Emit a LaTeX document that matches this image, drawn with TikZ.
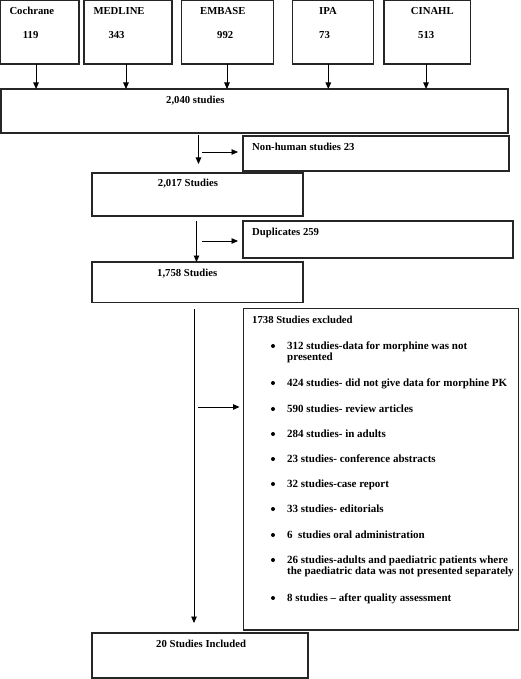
\documentclass[tikz,border=0pt]{standalone}
\usepackage{fontspec}
\setmainfont{Liberation Serif}
\usetikzlibrary{arrows.meta}

\tikzset{
  box/.style={draw=black!85, line width=1.4pt, inner sep=0pt, outer sep=0pt, anchor=north west},
  txt/.style={anchor=base west, inner sep=0pt, font=\bfseries\fontsize{10.7}{11}\selectfont},
  reason/.style={txt, font=\bfseries\fontsize{11}{11}\selectfont},
  arr/.style={draw, line width=0.9pt, -{Triangle[length=6.5pt,width=5.5pt]}}
}

\begin{document}
\begin{tikzpicture}[x=1pt, y=-1pt]
    \useasboundingbox (0,0) rectangle (520,679);
    % databases
    \node[box, minimum width=78.3pt, minimum height=63.5pt] (cochrane) at (0.7,0.5) {};
    \node[box, minimum width=88pt, minimum height=63.5pt] (medline) at (84,0.5) {};
    \node[box, minimum width=91.6pt, minimum height=63.5pt] (embase) at (181.7,0.5) {};
    \node[box, minimum width=80.6pt, minimum height=63.5pt] (ipa) at (292.7,0.5) {};
    \node[box, minimum width=86.7pt, minimum height=63.5pt] (cinahl) at (384,0.5) {};
    \node[txt] (tcochrane) at (9.3,15) {Cochrane};
    \node[txt] (ncochrane) at (22.7,39) {119};
    \node[txt] (tmedline) at (93.3,15) {MEDLINE};
    \node[txt] (nmedline) at (108.3,39) {343};
    \node[txt] (tembase) at (200,15) {EMBASE};
    \node[txt] (nembase) at (217,39) {992};
    \node[txt] (tipa) at (319,15) {IPA};
    \node[txt] (nipa) at (319,39) {73};
    \node[txt] (tcinahl) at (410.7,15) {CINAHL};
    \node[txt] (ncinahl) at (418,39) {513};
    % flow boxes
    \node[box, minimum width=507pt, minimum height=44pt] (all) at (1,89) {};
    \node[txt] (tall) at (166,104) {2,040 studies};
    \node[box, minimum width=266pt, minimum height=35pt] (nonhuman) at (243,136) {};
    \node[txt] (tnonhuman) at (252,150) {Non-human studies 23};
    \node[box, minimum width=211pt, minimum height=43pt] (s2017) at (92,173) {};
    \node[txt] (ts2017) at (157.7,186) {2,017 Studies};
    \node[box, minimum width=270pt, minimum height=37pt] (dupl) at (243,221) {};
    \node[txt] (tdupl) at (252,235) {Duplicates 259};
    \node[box, minimum width=211pt, minimum height=40.5pt] (s1758) at (92,262) {};
    \node[txt] (ts1758) at (157,276) {1,758 Studies};
    \node[box, minimum width=275.2pt, minimum height=321.5pt] (excl) at (243.5,308.5) {};
    \node[txt] (texcl) at (252,323) {1738 Studies excluded};
    \node[box, minimum width=216pt, minimum height=45pt] (incl) at (92,633) {};
    \node[txt] (tincl) at (156,647) {20 Studies Included};
    % exclusion reasons
    \node[reason] (r1) at (287,349.5) {312 studies-data for morphine was not};
    \node[reason] (r1b) at (287,360.5) {presented};
    \node[reason] (r2) at (287,386.5) {424 studies- did not give data for morphine PK};
    \node[reason] (r3) at (287,412.5) {590 studies- review articles};
    \node[reason] (r4) at (287,437.5) {284 studies- in adults};
    \node[reason] (r5) at (287,462.5) {23 studies- conference abstracts};
    \node[reason] (r6) at (287,487.5) {32 studies-case report};
    \node[reason] (r7) at (287,512.5) {33 studies- editorials};
    \node[reason] (r8) at (287,538.5) {6\ \ studies oral administration};
    \node[reason] (r9) at (287,563.5) {26 studies-adults and paediatric patients where};
    \node[reason] (r9b) at (287,574.5) {the paediatric data was not presented separately};
    \node[reason] (r10) at (287,601.5) {8 studies -- after quality assessment};
    \foreach \y in {346,383,409,434,459,484,509,535,560,598}
        \fill (273,\y) circle (2pt);
    % arrows
    \draw[arr] ([xshift=-3.8pt]cochrane.south) -- ([xshift=-3.8pt]cochrane.south |- all.north);
    \draw[arr] ([xshift=-2pt]medline.south) -- ([xshift=-2pt]medline.south |- all.north);
    \draw[arr] ([xshift=-0.5pt]embase.south) -- ([xshift=-0.5pt]embase.south |- all.north);
    \draw[arr] ([xshift=-4.7pt]ipa.south) -- ([xshift=-4.7pt]ipa.south |- all.north);
    \draw[arr] ([xshift=-1.3pt]cinahl.south) -- ([xshift=-1.3pt]cinahl.south |- all.north);
    \coordinate (d1) at (198.5,135);
    \coordinate (h1) at (202,152);
    \coordinate (d2) at (196.5,221);
    \coordinate (h2) at (202,241);
    \coordinate (d3) at (194,309);
    \coordinate (h3) at (198,407);
    \draw[arr, shorten >=9pt] (d1) -- (d1 |- s2017.north);
    \draw[arr, shorten >=5pt] (h1) -- (h1 -| nonhuman.west);
    \draw[arr] (d2) -- (d2 |- s1758.north);
    \draw[arr, shorten >=5pt] (h2) -- (h2 -| dupl.west);
    \draw[arr, shorten >=10pt] (d3) -- (d3 |- incl.north);
    \draw[arr, shorten >=4pt] (h3) -- (h3 -| excl.west);
\end{tikzpicture}
\end{document}
